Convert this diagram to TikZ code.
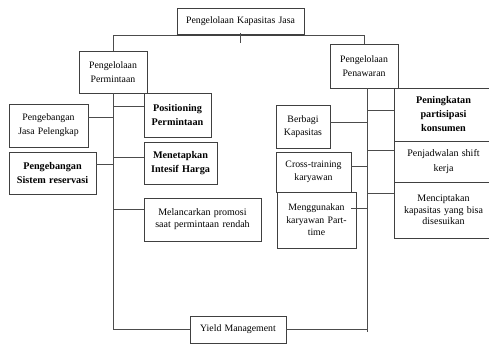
\documentclass[tikz,border=0pt]{standalone}
\usepackage{fontspec}
\setmainfont{Liberation Serif}
\usetikzlibrary{calc}
\begin{document}
\begin{tikzpicture}[x=1pt,y=-1pt,
  line/.style={draw=black!70, line width=0.8pt},
  boxbase/.style={draw=black!75, line width=0.9pt, fill=white, inner sep=0pt,
    font=\fontsize{9.8}{12.5}\selectfont},
  bigtext/.style={font=\bfseries\fontsize{10.2}{14}\selectfont},
  smalltext/.style={font=\fontsize{10}{12}\selectfont},
  % box of given width and height with centred lines
  wh/.style n args={2}{minimum width=#1pt, minimum height=#2pt, text width=#1pt-4pt, align=center},
]
\useasboundingbox (0,0) rectangle (489,354);

% boxes: centre, width, height
\node[boxbase, wh={127}{27}] (top) at (240.5,21.5) {Pengelolaan Kapasitas Jasa};
\node[boxbase, font=\fontsize{9.8}{14}\selectfont, wh={68}{42}] (perm) at (113,72) {Pengelolaan\\Permintaan};
\node[boxbase, font=\fontsize{9.8}{14}\selectfont, wh={68}{44}] (penaw) at (364,66) {Pengelolaan\\Penawaran};

\node[boxbase, font=\fontsize{9.8}{14}\selectfont, wh={79}{43}] (jasa) at (48.5,125.5) {Pengebangan\\Jasa Pelengkap};
\node[boxbase, bigtext, wh={87}{42}] (sistem) at (52.5,173) {Pengebangan\\Sistem reservasi};
\node[boxbase, bigtext, wh={67}{44}] (posit) at (177.5,115) {Positioning\\Permintaan};
\node[boxbase, bigtext, wh={73}{42}] (harga) at (180.5,163) {Menetapkan\\Intesif Harga};
\node[boxbase, smalltext, wh={117}{43}] (promo) at (202.5,219.5) {Melancarkan promosi\\saat permintaan rendah};
\node[boxbase, wh={96}{27}] (yield) at (238,329.5) {Yield Management};

\node[boxbase, wh={54}{43}] (bagi) at (303,126.5) {Berbagi\\Kapasitas};
\node[boxbase, wh={75}{40}] (cross) at (313.5,172) {Cross-training\\karyawan};
\node[boxbase, wh={79}{56}] (part) at (316.5,220) {Menggunakan\\karyawan Part-\\time};

\node[boxbase, bigtext, wh={99}{53}] (partis) at (443.5,114.5) {Peningkatan\\partisipasi\\konsumen};
\node[boxbase, smalltext, font=\fontsize{10}{14.5}\selectfont, wh={99}{41}] (shift) at (443.5,161.5) {Penjadwalan shift\\kerja};
\node[boxbase, smalltext, font=\fontsize{10}{11.5}\selectfont, wh={99}{56}] (cipta) at (443.5,210) {Menciptakan\\kapasitas yang bisa\\disesuikan};

% heavier lower edge of the title box
\draw[draw=black!75, line width=1.8pt] ([yshift=0.5pt]top.south west) -- ([yshift=0.5pt]top.south east);

% trunk lines
\coordinate (ltop) at (perm.south);
\coordinate (rtop) at ([xshift=3pt]penaw.south);
\coordinate (lbot) at (ltop |- yield.west);
\coordinate (rbot) at ([yshift=-2.5pt]rtop |- yield.east);

% top level connectors
\draw[line] (top.south west) -| (perm.north);
\draw[line] (top.south east) -| (penaw.north);
\draw[line] ([yshift=2pt]top.south) -- ++(0,10);

% demand side
\draw[line] (ltop) -- (lbot) -- (yield.west);
\draw[line] ([yshift=8.5pt]jasa.east) -- ([yshift=8.5pt]jasa.east -| ltop);
\draw[line] ([yshift=9pt]sistem.east) -- ([yshift=9pt]sistem.east -| ltop);
\draw[line] ([yshift=9pt]posit.west) -- ([yshift=9pt]posit.west -| ltop);
\draw[line] ([yshift=6pt]harga.west) -- ([yshift=6pt]harga.west -| ltop);
\draw[line] ([yshift=10.5pt]promo.west) -- ([yshift=10.5pt]promo.west -| ltop);

% supply side
\draw[line] (rtop) -- (rbot);
\draw[line] (yield.east) -- (yield.east -| rtop);
\draw[line] ([yshift=4.5pt]bagi.east) -- ([yshift=4.5pt]bagi.east -| rtop);
\draw[line] ([yshift=6pt]cross.east) -- ([yshift=6pt]cross.east -| rtop);
\draw[line] ([yshift=12pt,xshift=-5pt]part.east) -- ([yshift=12pt]part.east -| rtop);
\draw[line] ([yshift=4.5pt]partis.west) -- ([yshift=4.5pt]partis.west -| rtop);
\draw[line] ([yshift=11.5pt]shift.west) -- ([yshift=11.5pt]shift.west -| rtop);
\draw[line] ([yshift=17pt]cipta.west) -- ([yshift=17pt]cipta.west -| rtop);
\end{tikzpicture}
\end{document}
